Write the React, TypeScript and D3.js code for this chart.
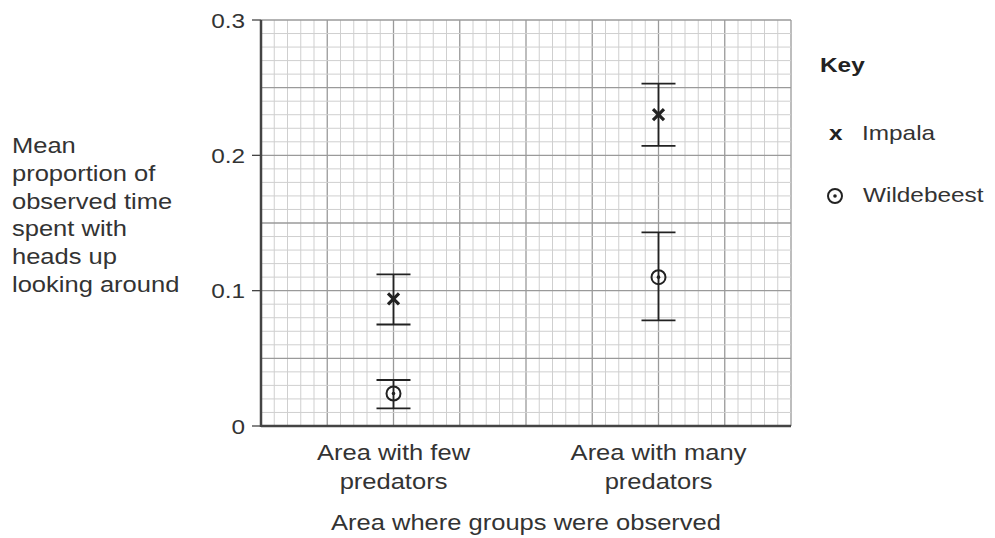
import React, { useEffect, useRef } from "react";
import * as d3 from "d3";

const categories = ["Area with few|predators", "Area with many|predators"];
const impalaMean = [0.094, 0.23];
const impalaLow = [0.075, 0.207];
const impalaHigh = [0.112, 0.253];
const wildMean = [0.024, 0.11];
const wildLow = [0.013, 0.078];
const wildHigh = [0.034, 0.143];
const yTicks = [0, 0.1, 0.2, 0.3];
const yTitle = ["Mean", "proportion of", "observed time", "spent with", "heads up", "looking around"];

const W = 995;
const H = 538;
const FONT = "Liberation Sans, Arial, sans-serif";
const SX = 1.16; // the scan is a bit stretched sideways

export default function App() {
	const ref = useRef<SVGSVGElement>(null);

	useEffect(() => {
		const svg = d3.select(ref.current);
		svg.selectAll("*").remove();

		const left = 261, right = 791, top = 20, bottom = 426;
		const x = d3.scaleLinear().domain([0, 40]).range([left, right]);
		const y = d3.scaleLinear().domain([0, 0.3]).range([bottom, top]);
		// categories sit on the 2nd and 6th major lines
		const catX = (i: number) => x(10 + i * 20);

		const g = svg.append("g");

		const label = (tx: number, ty: number, s: string, size: number, anchor = "start", weight = "normal", fill = "#333") =>
			g.append("text")
				.attr("transform", `translate(${tx},${ty}) scale(${SX},1)`)
				.attr("text-anchor", anchor)
				.attr("font-size", size)
				.attr("font-weight", weight)
				.attr("fill", fill)
				.text(s);

		// grid
		g.selectAll(".vmin")
			.data(d3.range(0, 41))
			.join("line")
			.attr("x1", (d) => x(d))
			.attr("x2", (d) => x(d))
			.attr("y1", top)
			.attr("y2", bottom)
			.attr("stroke", (d) => (d % 5 === 0 ? "#9a9a9a" : "#cfcfcf"))
			.attr("stroke-width", (d) => (d % 5 === 0 ? 1.3 : 1));
		g.selectAll(".hmin")
			.data(d3.range(0, 31))
			.join("line")
			.attr("x1", left)
			.attr("x2", right)
			.attr("y1", (d) => y(d / 100))
			.attr("y2", (d) => y(d / 100))
			.attr("stroke", (d) => (d % 5 === 0 ? "#9a9a9a" : "#cfcfcf"))
			.attr("stroke-width", (d) => (d % 5 === 0 ? 1.3 : 1));

		// axes
		g.append("line")
			.attr("x1", left).attr("x2", left)
			.attr("y1", top).attr("y2", bottom + 1)
			.attr("stroke", "#444").attr("stroke-width", 2.5);
		g.append("line")
			.attr("x1", left).attr("x2", right)
			.attr("y1", bottom).attr("y2", bottom)
			.attr("stroke", "#444").attr("stroke-width", 2.5);

		// y ticks and labels
		g.selectAll(".yt")
			.data(yTicks)
			.join("line")
			.attr("x1", left - 9)
			.attr("x2", left)
			.attr("y1", (d) => y(d))
			.attr("y2", (d) => y(d))
			.attr("stroke", "#444")
			.attr("stroke-width", 1.3);
		yTicks.forEach((d) => label(left - 16, y(d) + 7.5, d === 0 ? "0" : d.toFixed(1), 21, "end"));

		// y title
		yTitle.forEach((s, i) => label(12, 153 + i * 27.8, s, 22));

		// x category labels
		categories.forEach((c, i) => {
			c.split("|").forEach((line, j) => label(catX(i), 460 + j * 29, line, 22, "middle"));
		});
		label(526, 530, "Area where groups were observed", 22, "middle");

		// error bars
		const bars = [
			...categories.map((_, i) => ({ i, lo: impalaLow[i], hi: impalaHigh[i] })),
			...categories.map((_, i) => ({ i, lo: wildLow[i], hi: wildHigh[i] })),
		];
		const eb = g.selectAll(".eb").data(bars).join("g").attr("stroke", "#222").attr("stroke-width", 1.8);
		eb.append("line")
			.attr("x1", (d) => catX(d.i)).attr("x2", (d) => catX(d.i))
			.attr("y1", (d) => y(d.lo)).attr("y2", (d) => y(d.hi));
		eb.append("line")
			.attr("x1", (d) => catX(d.i) - 17).attr("x2", (d) => catX(d.i) + 17)
			.attr("y1", (d) => y(d.lo)).attr("y2", (d) => y(d.lo));
		eb.append("line")
			.attr("x1", (d) => catX(d.i) - 17).attr("x2", (d) => catX(d.i) + 17)
			.attr("y1", (d) => y(d.hi)).attr("y2", (d) => y(d.hi));

		const cross = (cx: number, cy: number) => {
			const s = 5.5;
			g.append("path")
				.attr("d", `M${cx - s},${cy - s}L${cx + s},${cy + s}M${cx + s},${cy - s}L${cx - s},${cy + s}`)
				.attr("stroke", "#222")
				.attr("stroke-width", 3.2)
				.attr("fill", "none");
		};
		const ring = (cx: number, cy: number) => {
			g.append("circle").attr("cx", cx).attr("cy", cy).attr("r", 7)
				.attr("fill", "none").attr("stroke", "#222").attr("stroke-width", 2);
			g.append("circle").attr("cx", cx).attr("cy", cy).attr("r", 1.8).attr("fill", "#222");
		};

		impalaMean.forEach((v, i) => cross(catX(i), y(v)));
		wildMean.forEach((v, i) => ring(catX(i), y(v)));

		// key
		label(820, 72, "Key", 21, "start", "bold", "#222");
		label(829, 140, "x", 21, "start", "bold", "#222");
		label(862, 140, "Impala", 21);
		ring(835, 196);
		label(863, 202, "Wildebeest", 21);
	}, []);

	return (
		<div style={{ position: "absolute", left: 0, top: 0 }}>
			<svg ref={ref} width={W} height={H} fontFamily={FONT} style={{ display: "block", background: "#fff" }} />
		</div>
	);
}
